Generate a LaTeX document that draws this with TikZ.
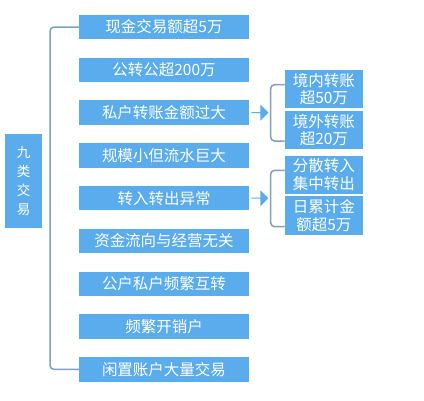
\documentclass[tikz,border=0pt]{standalone}
\usepackage{fontspec}
\usepackage{xcolor}
\usepackage{tikz}
\usetikzlibrary{positioning,shapes.arrows}
\newfontfamily\cjk{Noto Sans CJK SC}
\definecolor{boxblue}{HTML}{5AACEC}
\definecolor{linegrey}{HTML}{829FBF}
\tikzset{
  mainbox/.style={
    rectangle, fill=boxblue, text=white, inner sep=0pt,
    minimum width=170pt, minimum height=24.5pt,
    font=\cjk\fontsize{15.5}{17}\selectfont
  },
  subbox/.style={
    rectangle, fill=boxblue, text=white, inner sep=0pt,
    minimum width=78pt, minimum height=38.5pt, align=center,
    font=\cjk\fontsize{15.5}{17.5}\selectfont
  },
  blockarrow/.style={
    single arrow, fill=boxblue, inner sep=0pt,
    minimum height=17pt, minimum width=16pt,
    single arrow head extend=3pt
  },
  bracketline/.style={draw=linegrey, line width=1.5pt, rounded corners=4pt}
}
\begin{document}
\begin{tikzpicture}[x=1pt, y=1pt, node distance=17.9pt]
\useasboundingbox (0,0) rectangle (424,-400);
\fill[white] (0,0) rectangle (424,-400);

% left title box
\node[rectangle, fill=boxblue, text=white, inner sep=0pt,
  minimum width=37pt, minimum height=94pt, align=center,
  font=\cjk\fontsize{13.5}{19}\selectfont] (title) at (23.5,-181) {九\\类\\交\\易};

% nine kinds
\node[mainbox] (cash) at (164,-27) {现金交易额超5万};
\node[mainbox, below=of cash] (pubpub) {公转公超200万};
\node[mainbox, below=of pubpub] (private) {私户转账金额过大};
\node[mainbox, below=of private] (small) {规模小但流水巨大};
\node[mainbox, below=of small] (inout) {转入转出异常};
\node[mainbox, below=of inout] (flow) {资金流向与经营无关};
\node[mainbox, below=of flow] (mutual) {公户私户频繁互转};
\node[mainbox, below=of mutual] (openclose) {频繁开销户};
\node[mainbox, below=of openclose] (idle) {闲置账户大量交易};

\coordinate (spine) at (50,-196);
\draw[bracketline] (cash.west) -| (spine) |- (idle.west);

% private transfer details
\node[blockarrow, right=2pt of private] (arrowA) {};
\node[subbox, anchor=south west] (domestic) at ([xshift=16pt,yshift=4pt]arrowA.east) {境内转账\\超50万};
\node[subbox, below=2pt of domestic] (abroad) {境外转账\\超20万};
\draw[bracketline] ([yshift=4.5pt]domestic.west) -| ([xshift=2pt]arrowA.east) |- ([yshift=-11pt]abroad.west);

% in/out details
\node[blockarrow, right=2pt of inout] (arrowB) {};
\node[subbox, anchor=south west] (scatter) at ([xshift=16pt,yshift=4pt]arrowB.east) {分散转入\\集中转出};
\node[subbox, below=2pt of scatter] (daily) {日累计金\\额超5万};
\draw[bracketline] ([yshift=4.5pt]scatter.west) -| ([xshift=2pt]arrowB.east) |- ([yshift=-11pt]daily.west);
\end{tikzpicture}
\end{document}
